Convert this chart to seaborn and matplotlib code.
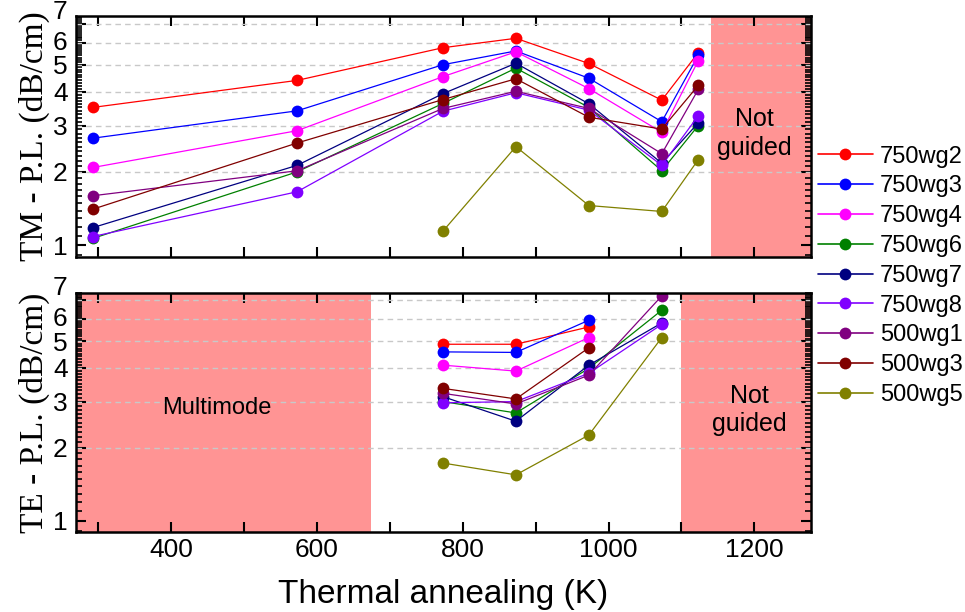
import numpy as np
import pandas as pd
import matplotlib
matplotlib.use("Agg")
import matplotlib.pyplot as plt
from matplotlib.ticker import FixedLocator, MultipleLocator, NullFormatter, FixedFormatter
import seaborn as sns

# ---------------- data ----------------
temps = [293, 573, 773, 873, 973, 1073, 1123]
series = ["750wg2", "750wg3", "750wg4", "750wg6", "750wg7", "750wg8", "500wg1", "500wg3", "500wg5"]
colors = ["#ff0000", "#0000ff", "#ff00ff", "#008000", "#000080", "#8000ff", "#800080", "#800000", "#808000"]

# TM propagation losses (dB/cm); None = no data
tm_750wg2 = [3.50, 4.39, 5.75, 6.21, 5.05, 3.72, 5.52]
tm_750wg3 = [2.69, 3.40, 5.00, 5.60, 4.47, 3.10, 5.40]
tm_750wg4 = [2.08, 2.87, 4.53, 5.56, 4.10, 2.83, 5.17]
tm_750wg6 = [1.07, 2.00, 3.62, 4.86, 3.50, 2.02, 3.00]
tm_750wg7 = [1.19, 2.12, 3.93, 5.06, 3.61, 2.16, 3.07]
tm_750wg8 = [1.09, 1.67, 3.39, 3.96, 3.42, 2.12, 3.26]
tm_500wg1 = [1.61, 2.02, 3.47, 4.01, 3.47, 2.35, 4.07]
tm_500wg3 = [1.42, 2.58, 3.74, 4.45, 3.22, 2.91, 4.21]
tm_500wg5 = [None, None, 1.15, 2.50, 1.47, 1.39, 2.23]

# TE propagation losses (dB/cm)
te_750wg2 = [None, None, 4.87, 4.87, 5.62, None, None]
te_750wg3 = [None, None, 4.57, 4.55, 5.94, None, None]
te_750wg4 = [None, None, 4.09, 3.89, 5.15, None, None]
te_750wg6 = [None, None, 3.00, 2.72, 3.98, 6.45, None]
te_750wg7 = [None, None, 3.13, 2.53, 4.09, 5.81, None]
te_750wg8 = [None, None, 2.97, 3.00, 3.82, 5.74, None]
te_500wg1 = [None, None, 3.22, 2.94, 3.76, 7.25, None]
te_500wg3 = [None, None, 3.36, 3.07, 4.73, None, None]
te_500wg5 = [None, None, 1.74, 1.56, 2.24, 5.15, None]

tm_vals = [tm_750wg2, tm_750wg3, tm_750wg4, tm_750wg6, tm_750wg7, tm_750wg8, tm_500wg1, tm_500wg3, tm_500wg5]
te_vals = [te_750wg2, te_750wg3, te_750wg4, te_750wg6, te_750wg7, te_750wg8, te_500wg1, te_500wg3, te_500wg5]

yticks = [1, 2, 3, 4, 5, 6, 7]
ytick_labels = ["1", "2", "3", "4", "5", "6", "7"]

def long_df(vals):
    rows = []
    for name, v in zip(series, vals):
        for t, y in zip(temps, v):
            if y is not None:
                rows.append({"T": t, "loss": y, "wg": name})
    return pd.DataFrame(rows)

df_tm = long_df(tm_vals)
df_te = long_df(te_vals)

# ---------------- style ----------------
sns.set_theme(style="white")
plt.rcParams["font.family"] = ["Liberation Sans", "DejaVu Sans"]
for k in ["text.color", "axes.labelcolor", "xtick.color", "ytick.color", "axes.edgecolor"]:
    plt.rcParams[k] = "black"

fig = plt.figure(figsize=(9.65, 6.12), dpi=100)
ax1 = fig.add_axes([0.0788, 0.580, 0.7612, 0.394])
ax2 = fig.add_axes([0.0788, 0.130, 0.7612, 0.392])

C = 0.3
fwd = lambda y: np.log10(np.maximum(np.asarray(y, dtype=float) + C, 1e-9))
inv = lambda z: 10 ** np.asarray(z, dtype=float) - C

shade = "#ff9494"
palette = dict(zip(series, colors))

def setup(ax, df, shades, show_xlabels):
    ax.set_yscale("function", functions=(fwd, inv))
    for (a, b) in shades:
        ax.axvspan(a, b, color=shade, lw=0, zorder=0)
    for g in yticks[1:]:
        ax.axhline(g, color="#c8c8c8", lw=1.0, ls=(0, (4, 3)), zorder=1)
    sns.lineplot(data=df, x="T", y="loss", hue="wg", palette=palette,
                 hue_order=series, marker="o", markersize=8.5, markeredgewidth=0,
                 lw=0.9, sort=False, estimator=None, legend=False, ax=ax, zorder=3)
    ax.set_xlim(270, 1277)
    ax.set_ylim(0.885, 7.45)
    ax.yaxis.set_major_locator(FixedLocator(yticks))
    ax.yaxis.set_major_formatter(FixedFormatter(ytick_labels))
    minors = [round(v, 1) for v in np.arange(0.9, 7.45, 0.1) if abs(v - round(v)) > 1e-6]
    ax.yaxis.set_minor_locator(FixedLocator(minors))
    ax.yaxis.set_minor_formatter(NullFormatter())
    ax.xaxis.set_major_locator(MultipleLocator(200))
    ax.xaxis.set_minor_locator(MultipleLocator(100))
    ax.tick_params(which="both", direction="in", top=True, right=True, bottom=True, left=True,
                   color="black", width=1.5)
    ax.tick_params(which="major", length=7, labelsize=19, pad=4)
    ax.tick_params(axis="y", which="major", pad=6)
    ax.tick_params(which="minor", length=4, width=1.2)
    ax.tick_params(axis="x", which="minor", length=7, width=1.5)
    if not show_xlabels:
        ax.tick_params(axis="x", labelbottom=False)
    for s in ax.spines.values():
        s.set_color("black")
        s.set_linewidth(1.8)
        s.set_zorder(5)
    ax.set_xlabel("")
    # mimic the reference: top label nudged up, next one nudged down a bit
    labs = ax.get_yticklabels()
    labs[-1].set_verticalalignment("bottom")
    labs[-2].set_verticalalignment("center")

setup(ax1, df_tm, [(1140, 1300)], False)
setup(ax2, df_te, [(200, 675), (1100, 1300)], True)

ax1.set_ylabel("TM - P.L. (dB/cm)", family=["Liberation Serif"], fontsize=24, labelpad=2)
ax2.set_ylabel("TE - P.L. (dB/cm)", family=["Liberation Serif"], fontsize=24, labelpad=2)
ax2.set_xlabel("Thermal annealing (K)", fontsize=24, labelpad=12)

ax1.text(1200, 2.8, "Not\nguided", ha="center", va="center", fontsize=18, linespacing=1.25, zorder=6)
ax2.text(1193, 2.79, "Not\nguided", ha="center", va="center", fontsize=18, linespacing=1.25, zorder=6)
ax2.text(463, 2.85, "Multimode", ha="center", va="center", fontsize=17, zorder=6)

handles = [plt.Line2D([], [], color=c, marker="o", markersize=8.5, markeredgewidth=0, lw=1.2)
           for c in colors]
fig.legend(handles, series, loc="upper left", bbox_to_anchor=(0.848, 0.762),
           frameon=False, fontsize=17, handlelength=2.3, handletextpad=0.3,
           labelspacing=0.33, borderaxespad=0, borderpad=0)

fig.savefig("out.png", dpi=100)
